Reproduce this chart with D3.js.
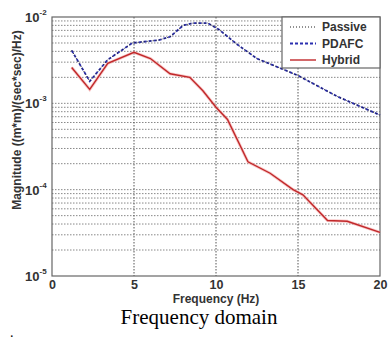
<!DOCTYPE html>
<html><head><meta charset="utf-8">
<script src="https://cdn.jsdelivr.net/npm/d3@7"></script>
<style>body{margin:0;background:#fff}svg{display:block}</style>
</head><body>
<script>
// data (frequency in Hz, magnitude)
const freqPassive = [1.2, 2.3, 3.4, 4.9, 6.5, 7.2, 8.0, 8.6, 9.5, 10.2, 11.3, 12.5, 15.0, 17.4, 20];
const passive     = [4.1e-3, 1.8e-3, 3.2e-3, 5.0e-3, 5.4e-3, 5.9e-3, 8.0e-3, 8.5e-3, 8.5e-3, 7.1e-3, 4.8e-3, 3.3e-3, 2.1e-3, 1.2e-3, 7.3e-4];
const freqPdafc   = [1.2, 2.3, 3.4, 4.9, 6.5, 7.2, 8.0, 8.6, 9.5, 10.2, 11.3, 12.5, 15.0, 17.4, 20];
const pdafc       = [4.1e-3, 1.8e-3, 3.2e-3, 5.0e-3, 5.4e-3, 5.9e-3, 8.0e-3, 8.5e-3, 8.5e-3, 7.1e-3, 4.8e-3, 3.3e-3, 2.1e-3, 1.2e-3, 7.3e-4];
const freqHybrid  = [1.2, 2.3, 3.4, 5.0, 6.0, 7.2, 8.4, 9.2, 10.0, 10.7, 11.95, 13.3, 14.7, 15.3, 16.8, 18.0, 20];
const hybrid      = [2.6e-3, 1.45e-3, 2.9e-3, 3.9e-3, 3.3e-3, 2.2e-3, 2.0e-3, 1.4e-3, 9.0e-4, 6.5e-4, 2.1e-4, 1.55e-4, 1.0e-4, 8.7e-5, 4.4e-5, 4.3e-5, 3.2e-5];
const xTicks = [0, 5, 10, 15, 20];
const yTickExp = [-2, -3, -4, -5];
const seriesNames = ["Passive", "PDAFC", "Hybrid"];

const W = 391, H = 339;
const FONT = "Liberation Sans, Arial, sans-serif";
const svg = d3.select("body").append("svg").attr("width", W).attr("height", H);
const L = 52, R = 380, T = 17, B = 276;
const x = d3.scaleLinear().domain([0, 20]).range([L, R]);
const y = d3.scaleLog().domain([1e-5, 1e-2]).range([B, T]);

// grid
const minor = [];
for (let e = -5; e < -2; e++) for (let m = 1; m <= 9; m++) minor.push(m * Math.pow(10, e));
svg.append("g").selectAll("line").data(minor.filter(v => v > 1e-5)).join("line")
  .attr("x1", L).attr("x2", R).attr("y1", d => y(d)).attr("y2", d => y(d))
  .attr("stroke", "#888").attr("stroke-width", 1).attr("stroke-dasharray", "1.5,1.5");
svg.append("g").selectAll("line").data(xTicks.slice(1, -1)).join("line")
  .attr("x1", d => x(d)).attr("x2", d => x(d)).attr("y1", T).attr("y2", B)
  .attr("stroke", "#555").attr("stroke-width", 1).attr("stroke-dasharray", "1.5,1.5");

// frame
svg.append("rect").attr("x", L).attr("y", T).attr("width", R - L).attr("height", B - T)
  .attr("fill", "none").attr("stroke", "#666").attr("stroke-width", 1.2);

// axes labels
const xa = d3.axisBottom(x).tickValues(xTicks).tickSize(0).tickPadding(4);
const gx = svg.append("g").attr("transform", `translate(0,${B})`).call(xa);
gx.select(".domain").remove();
gx.selectAll("text").attr("font-family", FONT).attr("font-size", 12.5)
  .attr("font-weight", "bold").attr("fill", "#333");

const gy = svg.append("g");
yTickExp.forEach(e => {
  const t = gy.append("text").attr("x", 25).attr("y", y(Math.pow(10, e)) + 5)
    .attr("font-family", FONT).attr("font-size", 13)
    .attr("font-weight", "bold").attr("fill", "#333");
  t.append("tspan").text("10");
  t.append("tspan").attr("dy", -7).attr("font-size", 8).text(String(e));
});

svg.append("text").attr("x", x(10)).attr("y", 303).attr("text-anchor", "middle")
  .attr("font-family", FONT).attr("font-size", 12)
  .attr("font-weight", "bold").attr("fill", "#333").text("Frequency (Hz)");
svg.append("text").attr("transform", "translate(21,120) rotate(-90)").attr("text-anchor", "middle")
  .attr("font-family", FONT).attr("font-size", 12)
  .attr("font-weight", "bold").attr("fill", "#333").text("Magnitude ((m*m)/(sec*sec)/Hz)");

// lines
const line = d3.line().x(d => x(d[0])).y(d => y(d[1]));
const zip = (a, b) => a.map((v, i) => [v, b[i]]);
svg.append("path").datum(zip(freqHybrid, hybrid)).attr("d", line).attr("fill", "none")
  .attr("stroke", "#f4a0a0").attr("stroke-width", 3).attr("opacity", 0.6);
svg.append("path").datum(zip(freqHybrid, hybrid)).attr("d", line).attr("fill", "none")
  .attr("stroke", "#c0282a").attr("stroke-width", 1.4);
svg.append("path").datum(zip(freqPdafc, pdafc)).attr("d", line).attr("fill", "none")
  .attr("stroke", "#2b2fb0").attr("stroke-width", 1.8).attr("stroke-dasharray", "3,2");
svg.append("path").datum(zip(freqPassive, passive)).attr("d", line).attr("fill", "none")
  .attr("stroke", "#222").attr("stroke-width", 1).attr("stroke-dasharray", "1,2");

// legend
const lg = svg.append("g");
lg.append("rect").attr("x", 282).attr("y", T).attr("width", R - 282).attr("height", 51)
  .attr("fill", "#fff").attr("stroke", "#666").attr("stroke-width", 1.2);
const styles = [
  {stroke: "#222", w: 1, dash: "1,2"},
  {stroke: "#2b2fb0", w: 1.8, dash: "3,2"},
  {stroke: "#c0282a", w: 1.4, dash: null}
];
seriesNames.forEach((n, i) => {
  const yy = 27 + i * 16.5;
  const ln = lg.append("line").attr("x1", 290).attr("x2", 316).attr("y1", yy).attr("y2", yy)
    .attr("stroke", styles[i].stroke).attr("stroke-width", styles[i].w);
  if (styles[i].dash) ln.attr("stroke-dasharray", styles[i].dash);
  lg.append("text").attr("x", 322).attr("y", yy + 4).attr("font-family", FONT)
    .attr("font-size", 12).attr("font-weight", "bold").attr("fill", "#333").text(n);
});

// caption
svg.append("text").attr("x", 199).attr("y", 324).attr("text-anchor", "middle")
  .attr("font-family", "Liberation Serif, Times New Roman, serif").attr("font-size", 21)
  .attr("fill", "#000").text("Frequency domain");
svg.append("text").attr("x", 10).attr("y", 337).attr("font-family", "Liberation Serif, serif")
  .attr("font-size", 14).text(".");
</script>
</body></html>
